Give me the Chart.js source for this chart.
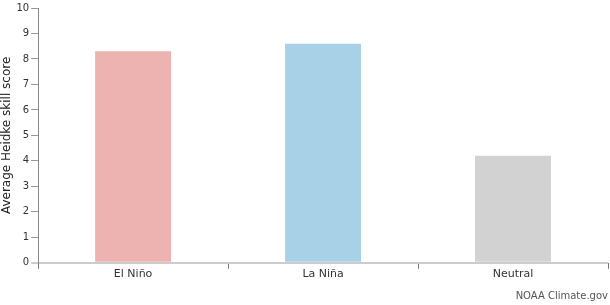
<!DOCTYPE html>
<html>
<head>
<meta charset="utf-8">
<script src="https://cdn.jsdelivr.net/npm/chart.js@4"></script>
<style>
  body { margin: 0; background: #fff; }
  #wrap { width: 610px; height: 305px; }
</style>
</head>
<body>
<div id="wrap"><canvas id="skillChart"></canvas></div>
<script>
const categories = ['El Niño', 'La Niña', 'Neutral'];
const skillScores = [8.3, 8.6, 4.2];
const barColors = ['#edb3b0', '#a8d1e7', '#d2d2d2'];
const yTicks = [0, 1, 2, 3, 4, 5, 6, 7, 8, 9, 10];

Chart.defaults.font.family = '"DejaVu Sans", sans-serif';
Chart.defaults.color = '#333';

const ctx = document.getElementById('skillChart').getContext('2d');
const chart = new Chart(ctx, {
    type: 'bar',
    data: {
        labels: categories,
        datasets: [{
            label: 'Average Heidke skill score',
            data: skillScores,
            backgroundColor: barColors,
            categoryPercentage: 1,
            barPercentage: 0.4
        }]
    },
    options: {
        responsive: true,
        maintainAspectRatio: false,
        animation: false,
        layout: { padding: { top: 1, right: 2, left: 0, bottom: 3 } },
        plugins: {
            legend: { display: false },
            tooltip: { enabled: false },
            title: {
                display: true,
                text: 'NOAA Climate.gov',
                position: 'bottom',
                align: 'end',
                color: '#555',
                font: { size: 10, weight: 'normal' },
                padding: { top: 10, bottom: 0 }
            }
        },
        scales: {
            x: {
                grid: {
                    offset: true,
                    drawOnChartArea: false,
                    tickLength: 6,
                    color: '#777'
                },
                border: { display: false },
                ticks: { font: { size: 11 }, padding: -1, color: '#333' }
            },
            y: {
                min: 0,
                max: 10,
                afterBuildTicks: axis => { axis.ticks = yTicks.map(v => ({ value: v })); },
                grid: {
                    drawOnChartArea: true,
                    tickLength: 7,
                    lineWidth: c => c.tick && c.tick.value === 0 ? 2 : 1,
                    color: c => c.tick && c.tick.value === 0 ? '#cccccc' : 'rgba(0,0,0,0)',
                    tickColor: c => c.tick && c.tick.value === 0 ? '#cccccc' : '#999'
                },
                border: { color: '#888', width: 1 },
                ticks: { font: { size: 10 }, padding: 2, color: '#333' },
                title: {
                    display: true,
                    text: 'Average Heidke skill score',
                    font: { size: 12 },
                    color: '#222',
                    padding: { top: 0, bottom: 0 }
                }
            }
        }
    }
});
</script>
</body>
</html>
